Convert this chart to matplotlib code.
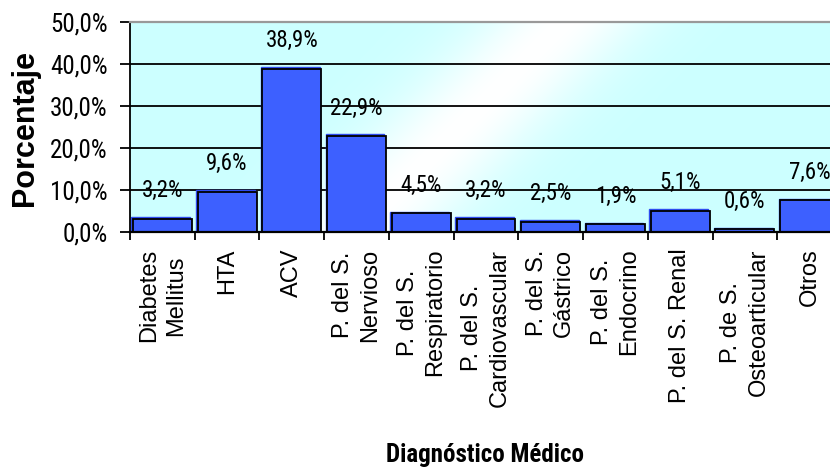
import numpy as np
import matplotlib
matplotlib.use('Agg')
from matplotlib import pyplot as plt
from matplotlib import transforms
from matplotlib.ticker import FuncFormatter, FixedLocator

# Datos del grafico
diagnosticos = ['Diabetes\nMellitus', 'HTA', 'ACV', 'P. del S.\nNervioso',
                'P. del S.\nRespiratorio', 'P. del S.\nCardiovascular',
                'P. del S.\nGástrico', 'P. del S.\nEndocrino', 'P. del S. Renal',
                'P. de S.\nOsteoarticular', 'Otros']
porcentajes = [3.2, 9.6, 38.9, 22.9, 4.5, 3.2, 2.5, 1.9, 5.1, 0.6, 7.6]
y_ticks = [0, 10, 20, 30, 40, 50]

NARROW = ['Roboto Condensed', 'DejaVu Sans']
REGULAR = ['Liberation Sans', 'DejaVu Sans']

fig = plt.figure(figsize=(8.3, 4.69), dpi=100)
ax = fig.add_axes([130 / 830, 237 / 469, 712 / 830, 210 / 469])

n = len(diagnosticos)
x = np.arange(n)
ax.set_xlim(-0.5, n - 0.5)
ax.set_ylim(0, 50)

# fondo celeste con brillo diagonal
nx, ny = 712, 210
px = 130 + np.arange(nx)[None, :]
py = 22 + np.arange(ny)[:, None]
d = ((px - 563) * 210 + (py - 22) * 208) / np.hypot(210, 208)
w = np.exp(-(d / 60.0) ** 2)
bg = np.zeros((ny, nx, 3))
bg[..., 0] = 0.80 + 0.20 * w
bg[..., 1] = 1.0
bg[..., 2] = 1.0
ax.imshow(bg, extent=(-0.5, n - 0.5, 0, 50), aspect='auto', origin='upper', zorder=0)

ax.set_axisbelow(True)
ax.yaxis.grid(True, color='black', linewidth=1.3)

# sombra azul de las barras + barras
shadow = transforms.offset_copy(ax.transData, fig=fig, x=-1.5, y=1.5, units='dots')
ax.bar(x, porcentajes, width=0.91, color='#2E4BEF', edgecolor='#2E4BEF',
       linewidth=1.0, transform=shadow, zorder=1.9)
bars = ax.bar(x, porcentajes, width=0.91, color='#3D60FF', edgecolor='black',
              linewidth=1.3, zorder=2)

for b, v in zip(bars, porcentajes):
    ax.annotate(('%.1f%%' % v).replace('.', ','),
                xy=(b.get_x() + b.get_width() / 2, v), xytext=(0, 20),
                textcoords='offset points', ha='center', va='center',
                fontsize=16.5, family=NARROW, zorder=3)

# ejes
ax.yaxis.set_major_locator(FixedLocator(y_ticks))
ax.yaxis.set_major_formatter(FuncFormatter(lambda v, p: ('%.1f%%' % v).replace('.', ',')))
ax.tick_params(axis='y', direction='out', length=7, width=1.3, pad=9)
for lab in ax.get_yticklabels():
    lab.set_family(NARROW)
    lab.set_fontsize(18)

ax.set_xticks(x)
ax.set_xticklabels(diagnosticos, rotation=90, ha='center', va='top',
                   fontsize=17, family=REGULAR, linespacing=1.3,
                   multialignment='center')
ax.set_xticks(np.arange(n + 1) - 0.5, minor=True)
ax.tick_params(axis='x', which='major', length=0, pad=12)
ax.tick_params(axis='x', which='minor', direction='out', length=6, width=1.3)

ax.spines['left'].set_linewidth(1.3)
ax.spines['bottom'].set_linewidth(1.6)
ax.spines['top'].set_color('#999999')
ax.spines['top'].set_linewidth(1.6)
ax.spines['right'].set_color('#999999')

fig.text(25 / 830, 1 - 128 / 469, 'Porcentaje', rotation=90, ha='center', va='center',
         fontsize=22, fontweight='bold', family=REGULAR)
fig.text(485 / 830, 1 - 462 / 469, 'Diagnóstico Médico', ha='center', va='baseline',
         fontsize=18, fontweight='bold', family=NARROW)

fig.savefig('out.png', dpi=100)
